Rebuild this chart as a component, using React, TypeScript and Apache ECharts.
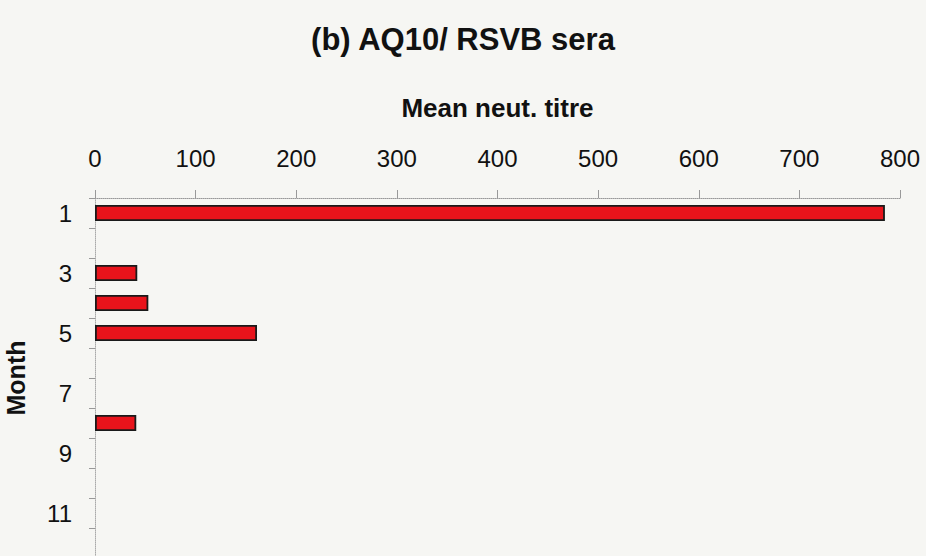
import React, { useEffect, useRef } from "react";
import * as echarts from "echarts";

const months = ["1", "2", "3", "4", "5", "6", "7", "8", "9", "10", "11", "12"];
const titres: (number | null)[] = [785, null, 42, 53, 161, null, null, 41, null, null, null, null];
const xTicks = { min: 0, max: 800, interval: 100 };

export default function App() {
  const ref = useRef<HTMLDivElement>(null);
  useEffect(() => {
    if (!ref.current) return;
    const chart = echarts.init(ref.current, undefined, { renderer: "svg" });
    const font = "'Liberation Sans', Arial, Helvetica, sans-serif";
    chart.setOption({
      animation: false,
      backgroundColor: "#f6f6f3",
      title: {
        text: "(b) AQ10/ RSVB sera",
        left: 458,
        textAlign: "center",
        top: 19,
        textStyle: { fontFamily: font, fontSize: 31, fontWeight: "bold", color: "#111" },
      },
      grid: {
        left: 95,
        top: 198,
        width: 805,
        height: 360,
        containLabel: false,
        outerBoundsMode: "none",
      },
      xAxis: {
        type: "value",
        position: "top",
        min: xTicks.min,
        max: xTicks.max,
        interval: xTicks.interval,
        name: "Mean neut. titre",
        nameLocation: "middle",
        nameGap: 77,
        nameTextStyle: { fontFamily: font, fontSize: 26, fontWeight: "bold", color: "#111" },
        axisLine: { show: true, lineStyle: { color: "#999", type: "dotted", width: 1 } },
        axisTick: { show: true, length: 8, lineStyle: { color: "#999" } },
        axisLabel: { margin: 28, fontFamily: font, fontSize: 24, color: "#111" },
        splitLine: { show: false },
      },
      yAxis: {
        type: "category",
        data: months,
        inverse: true,
        name: "Month",
        nameLocation: "middle",
        nameRotate: 90,
        nameGap: 67,
        nameTextStyle: { fontFamily: font, fontSize: 25, fontWeight: "bold", color: "#111" },
        axisLine: { show: true, lineStyle: { color: "#aaa", type: "dotted", width: 1 } },
        axisTick: { show: true, interval: 0, length: 6, inside: false, lineStyle: { color: "#999" } },
        axisLabel: { interval: 1, margin: 23, fontFamily: font, fontSize: 24, color: "#111" },
      },
      series: [
        {
          type: "bar",
          data: titres,
          barWidth: "54%",
          itemStyle: { color: "#e8131b", borderColor: "#1a1a1a", borderWidth: 1.8 },
        },
      ],
    });
    return () => chart.dispose();
  }, []);
  return (
    <div
      ref={ref}
      style={{ position: "fixed", left: 0, top: 0, width: 926, height: 556 }}
    />
  );
}
